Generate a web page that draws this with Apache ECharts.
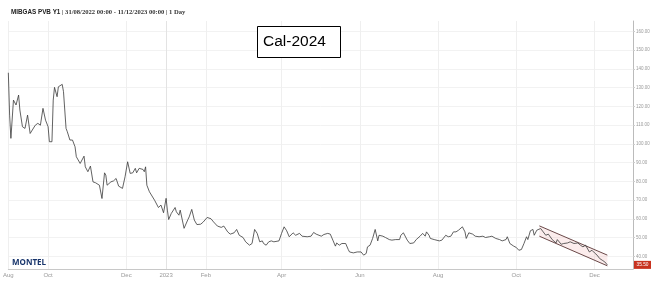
<!DOCTYPE html>
<html>
<head>
<meta charset="utf-8">
<script src="https://cdn.jsdelivr.net/npm/echarts@6/dist/echarts.min.js"></script>
<style>html,body{margin:0;padding:0;background:#fff}#c{width:653px;height:291px}</style>
</head>
<body>
<div id="c"></div>
<script>
// ---- data ----
const startDate = '2022-08-31';
const endDate = '2023-12-31';
// days after startDate
const dayIndex = [0,1,2,4,6,8,9,11,13,15,17,18,21,23,25,27,29,31,32,34,35,36,38,39,40,42,43,45,46,48,50,51,52,53,56,59,60,62,64,66,68,71,73,75,76,77,80,82,84,86,89,91,93,95,97,99,100,102,105,106,107,108,110,114,117,119,121,123,124,125,127,130,131,133,134,137,140,141,143,145,147,150,152,155,158,160,163,166,168,171,173,176,178,180,183,185,188,190,192,194,196,198,199,201,203,205,207,211,213,215,217,219,222,224,227,229,233,236,238,240,244,246,249,251,253,255,256,258,260,263,265,266,269,272,273,275,277,279,280,282,284,286,288,289,292,294,297,299,302,305,306,308,311,313,316,318,321,323,325,326,328,329,332,336,338,341,343,345,347,349,351,352,354,356,357,359,362,364,367,370,372,375,377,380,383,385,388,389,391,394,396,398,400,402,404,405,407,409,410,412,415,417,419,421,424,427,428,431,433,436,438,441,444,446,448,450,453,455,457,459,461,462,463,465,467];
const prices = [138,115.4,103,123.4,120.8,126.1,118.1,109.2,108.3,115.4,105.6,104.7,110,111,110,119,112.7,109.2,101.2,101.2,123.4,130.2,125.2,130.5,130.9,131.8,127.9,108.3,106.5,102.1,102.1,102.6,98.5,93.2,89.6,93.5,87.8,85.2,88.2,79.8,79.3,78,70.9,84.6,83.4,78,79.8,80.3,81.6,77.5,76.3,82.5,90.5,84.3,84.6,87,84.6,87,86.4,85.2,87.8,78,74.5,70,66.1,67.4,63.3,71,64.7,59.7,62.9,66.1,63.8,62,64.7,55,59.7,61.1,65.1,59.4,57,57.2,58.4,60.8,60.1,58.4,56.2,55.5,56.2,53.1,51.9,52.6,54.4,51.3,50.1,47.8,46,46.9,54.4,52.3,47.8,48.3,46.9,46,47.8,48.3,47.8,48.3,52.3,55.8,53.7,50.5,52.6,51.3,52.3,50.8,50.5,50.8,52.8,51.9,50.8,51.7,52.3,51.9,48.7,45.5,47.2,46,46.9,46.9,43.7,42.4,41.9,42.4,41.6,42.4,40.7,41.6,45.1,46,49.6,54.4,48.3,51.3,50.8,50.1,49,48.7,49,49,51.3,52.6,48.7,46.9,47.2,49,50.8,52.3,50.8,53.1,51.3,49.6,49,48.3,48.7,51.3,50.5,50.8,53.1,53.1,54,54.9,55.8,53.1,49.6,52.6,51.9,50.8,50.5,50.8,50.1,50.5,50.8,49.6,49,48.3,49,50.5,46.9,45.5,44.8,43.3,43.7,46.9,50.5,49,53.7,54.4,51.3,54,54.9,53.1,51.3,51.9,49,47.2,49,46.5,46.9,47.2,47.8,46.9,47.2,46,45.1,46,42.4,43.3,41.9,40.7,38.9,38.4,38,37.1,35.5];
// trend channel
const channelDates = ['2023-10-19','2023-12-11'];
const channelUpper = [56.3, 40.7];
const channelLower = [50.8, 35.0];
// axis ticks
const xTickDates = ['2022-08-31','2022-10-01','2022-12-01','2023-01-01','2023-02-01','2023-04-01','2023-06-01','2023-08-01','2023-10-01','2023-12-01'];
const xTickLabels = ['Aug','Oct','Dec','2023','Feb','Apr','Jun','Aug','Oct','Dec'];
const yearStart = '2023-01-01';
const yTicks = [40,50,60,70,80,90,100,110,120,130,140,150,160];

// ---- build ----
function ts(s){const p=s.split('-').map(Number);return Date.UTC(p[0],p[1]-1,p[2]);}
const t0 = ts(startDate);
const lineData = dayIndex.map((d,i)=>[t0 + d*86400000, prices[i]]);
const xTicks = xTickDates.map(ts);
const labelMap = {}; xTicks.forEach((t,i)=>labelMap[t]=xTickLabels[i]);
const chT = channelDates.map(ts);
const lastPrice = prices[prices.length-1];

const chart = echarts.init(document.getElementById('c'), null, {renderer:'canvas'});
chart.setOption({
  animation:false,
  backgroundColor:'#fff',
  title:{
    left:6, top:4,
    text:'{b|MIBGAS PVB Y1}{n| | 31/08/2022 00:00 - 11/12/2023 00:00 | 1 Day}',
    textStyle:{rich:{
      b:{fontFamily:'Liberation Sans',fontWeight:'bold',fontSize:6.3,color:'#222'},
      n:{fontFamily:'Liberation Serif',fontSize:6.6,color:'#333'}
    }}
  },
  graphic:[
    {type:'rect',left:257,top:26,shape:{width:83,height:31},style:{fill:'#fff',stroke:'#000',lineWidth:1},z:10},
    {type:'text',left:263,top:34,style:{text:'Cal-2024',fontFamily:'Liberation Sans',fontSize:15.5,fill:'#000'},z:11},
    {type:'text',left:12,top:259,style:{text:'MONTEL',fontFamily:'Open Sans',fontWeight:'bold',fontSize:8,fill:'#17346b'},z:11}
  ],
  grid:{left:7,right:20,top:21,bottom:22},
  xAxis:{
    type:'value',
    min:t0, max:ts(endDate),
    axisLine:{show:true,lineStyle:{color:'#c8c8c8',width:1}},
    axisTick:{show:false,customValues:xTicks},
    axisLabel:{customValues:xTicks,fontSize:6,color:'#999',margin:3,fontFamily:'Liberation Sans',
      formatter:v=>labelMap[v]||''},
    splitLine:{show:true,lineStyle:{color:'#efefef',width:1}}
  },
  yAxis:{
    type:'value',position:'right',
    min:33.3,max:165.6,
    axisLine:{show:true,lineStyle:{color:'#bbb',width:1}},
    axisTick:{show:true,length:2,customValues:yTicks,lineStyle:{color:'#ccc'}},
    axisLabel:{customValues:yTicks,fontSize:4.5,color:'#999',margin:3,fontFamily:'Liberation Sans',
      formatter:v=>v.toFixed(2)},
    splitLine:{show:true,lineStyle:{color:'#f2f2f2',width:1}}
  },
  series:[
    {
      type:'custom',
      data:[[chT[0],channelUpper[0]]],
      silent:true,z:1,
      renderItem:(params,api)=>{
        const pts=[
          api.coord([chT[0],channelUpper[0]]),
          api.coord([chT[1],channelUpper[1]]),
          api.coord([chT[1],channelLower[1]]),
          api.coord([chT[0],channelLower[0]])
        ];
        return {type:'polygon',shape:{points:pts},style:{fill:'rgba(235,170,170,0.22)'}};
      }
    },
    {
      type:'line',data:lineData,showSymbol:false,z:3,
      lineStyle:{color:'#3a3a3a',width:0.8},
      markLine:{
        silent:true,symbol:'none',z:2,
        data:[
          {yAxis:lastPrice,
           lineStyle:{color:'rgba(0,0,0,0)',width:0},
           label:{show:true,position:'end',distance:1,formatter:()=>lastPrice.toFixed(2),
             backgroundColor:'#c8321f',color:'#fff',fontSize:4.8,padding:[1.5,2.5],fontFamily:'Liberation Sans'}},
          {xAxis:ts(yearStart),
           lineStyle:{color:'#e3e3e3',width:1,type:'solid'},
           label:{show:false}}
        ]
      }
    },
    {
      type:'line',data:[[chT[0],channelUpper[0]],[chT[1],channelUpper[1]]],showSymbol:false,z:2,
      lineStyle:{color:'#6a4848',width:1}
    },
    {
      type:'line',data:[[chT[0],channelLower[0]],[chT[1],channelLower[1]]],showSymbol:false,z:2,
      lineStyle:{color:'#6a4848',width:1}
    }
  ]
});
</script>
</body>
</html>
